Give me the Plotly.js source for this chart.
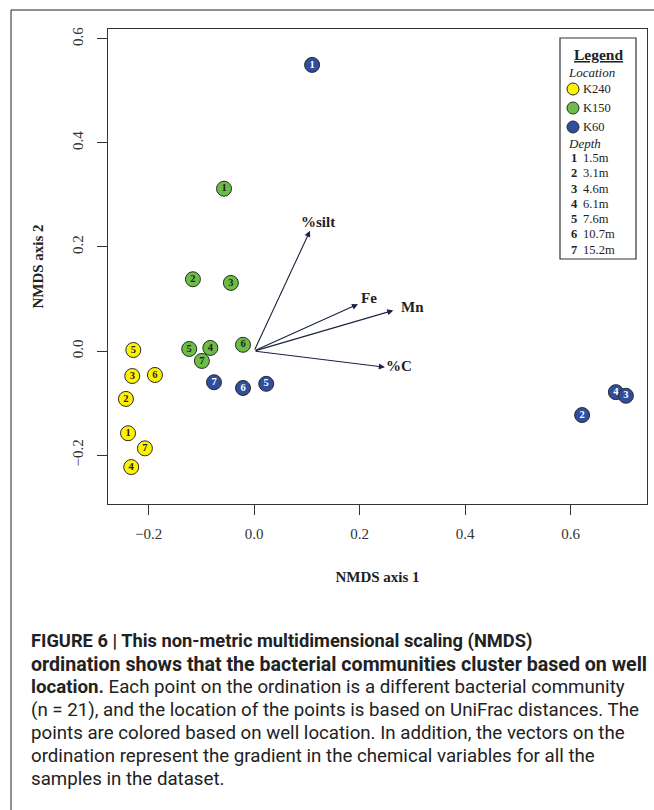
<!DOCTYPE html>
<html>
<head>
<meta charset="utf-8">
<script src="https://cdn.plot.ly/plotly-3.0.1.min.js"></script>
<style>html,body{margin:0;padding:0;background:#fff;}#chart{width:654px;height:810px;}</style>
</head>
<body>
<div id="chart"></div>
<script>
// ---- data ----
const locations = ['K240', 'K150', 'K60'];
const depthCodes = ['1', '2', '3', '4', '5', '6', '7'];
const depthLabels = ['1.5m', '3.1m', '4.6m', '6.1m', '7.6m', '10.7m', '15.2m'];

const k240Depth = ['5', '3', '6', '2', '1', '7', '4'];
const k240X = [-0.229, -0.231, -0.188, -0.243, -0.239, -0.207, -0.233];
const k240Y = [0.002, -0.048, -0.046, -0.092, -0.158, -0.187, -0.223];

const k150Depth = ['1', '2', '3', '5', '4', '7', '6'];
const k150X = [-0.057, -0.116, -0.044, -0.123, -0.083, -0.099, -0.021];
const k150Y = [0.312, 0.138, 0.131, 0.004, 0.006, -0.019, 0.012];

const k60Depth = ['1', '7', '6', '5', '2', '4', '3'];
const k60X = [0.110, -0.076, -0.021, 0.023, 0.622, 0.686, 0.705];
const k60Y = [0.550, -0.060, -0.071, -0.063, -0.123, -0.079, -0.086];

const vectorNames = ['%silt', 'Fe', 'Mn', '%C'];
const vectorX = [0.106, 0.197, 0.264, 0.248];
const vectorY = [0.231, 0.090, 0.078, -0.031];

const xTicks = [-0.2, 0.0, 0.2, 0.4, 0.6];
const yTicks = [-0.2, 0.0, 0.2, 0.4, 0.6];

const captionLines = [
  '<b>FIGURE 6 | This non-metric multidimensional scaling (NMDS)</b>',
  '<b>ordination shows that the bacterial communities cluster based on well</b>',
  '<b>location.</b> Each point on the ordination is a different bacterial community',
  '(n = 21), and the location of the points is based on UniFrac distances. The',
  'points are colored based on well location. In addition, the vectors on the',
  'ordination represent the gradient in the chemical variables for all the',
  'samples in the dataset.'
];

// ---- styling / layout ----
const W = 654, H = 810;
const M = {l: 108, r: 7, t: 29, b: 306};
const PW = W - M.l - M.r, PH = H - M.t - M.b;
const px = x => (x - M.l) / PW;
const py = y => (H - M.b - y) / PH;

const serif = 'Liberation Serif, Times New Roman, serif';
const fillColors = ['#fff200', '#6cbd45', '#2f4f9e'];
const textColors = ['#222', '#222', '#ffffff'];
const edge = '#2a2a2a';

function pointTrace(xs, ys, labels, i) {
  return {
    type: 'scatter', mode: 'markers+text', name: locations[i],
    x: xs, y: ys, text: labels, textposition: 'middle center',
    textfont: {family: serif, size: 10.5, color: textColors[i], weight: 'bold'},
    marker: {size: 15, color: fillColors[i], line: {color: edge, width: 1}},
    hoverinfo: 'x+y', showlegend: false, cliponaxis: false
  };
}

const traces = [
  pointTrace(k240X, k240Y, k240Depth, 0),
  pointTrace(k150X, k150Y, k150Depth, 1),
  pointTrace(k60X, k60Y, k60Depth, 2)
];

const annotations = [];
const shapes = [];

// vectors
const labelOffsets = [[8, 9], [11, 6], [19, 3], [14, 1]];
vectorNames.forEach((n, i) => {
  annotations.push({
    x: vectorX[i], y: vectorY[i], ax: 0, ay: 0, axref: 'x', ayref: 'y', xref: 'x', yref: 'y',
    text: '', showarrow: true, arrowhead: 2, arrowsize: 1.1, arrowwidth: 1.1, arrowcolor: '#1c2340'
  });
  annotations.push({
    x: vectorX[i], y: vectorY[i], xref: 'x', yref: 'y', xshift: labelOffsets[i][0], yshift: labelOffsets[i][1],
    text: '<b>' + n + '</b>', showarrow: false, xanchor: 'center', yanchor: 'middle',
    font: {family: serif, size: 15, color: '#222'}
  });
});

// legend box
shapes.push({type: 'rect', xref: 'paper', yref: 'paper', x0: px(560), x1: px(636), y0: py(259), y1: py(38),
  line: {color: '#333', width: 1.2}, fillcolor: 'rgba(0,0,0,0)'});
annotations.push({xref: 'paper', yref: 'paper', x: px(598), y: py(54), text: '<b><u>Legend</u></b>', showarrow: false,
  xanchor: 'center', yanchor: 'middle', font: {family: serif, size: 15.5, color: '#222'}});
annotations.push({xref: 'paper', yref: 'paper', x: px(566), y: py(73), text: '<i>Location</i>', showarrow: false,
  xanchor: 'left', yanchor: 'middle', font: {family: serif, size: 13, color: '#222'}});
locations.forEach((loc, i) => {
  const yy = 89 + i * 19;
  shapes.push({type: 'circle', xref: 'paper', yref: 'paper', xsizemode: 'pixel', ysizemode: 'pixel',
    xanchor: px(573), yanchor: py(yy), x0: -6, x1: 6, y0: -6, y1: 6,
    fillcolor: fillColors[i], line: {color: edge, width: 1}});
  annotations.push({xref: 'paper', yref: 'paper', x: px(581), y: py(yy), text: loc, showarrow: false,
    xanchor: 'left', yanchor: 'middle', font: {family: serif, size: 12.5, color: '#222'}});
});
annotations.push({xref: 'paper', yref: 'paper', x: px(566), y: py(143), text: '<i>Depth</i>', showarrow: false,
  xanchor: 'left', yanchor: 'middle', font: {family: serif, size: 13, color: '#222'}});
depthCodes.forEach((d, i) => {
  const yy = 158 + i * 15.3;
  annotations.push({xref: 'paper', yref: 'paper', x: px(569), y: py(yy), text: '<b>' + d + '</b>', showarrow: false,
    xanchor: 'left', yanchor: 'middle', font: {family: serif, size: 12.5, color: '#222'}});
  annotations.push({xref: 'paper', yref: 'paper', x: px(581), y: py(yy), text: depthLabels[i], showarrow: false,
    xanchor: 'left', yanchor: 'middle', font: {family: serif, size: 12.5, color: '#222'}});
});

// outer figure frame (left and top edges)
shapes.push({type: 'line', xref: 'paper', yref: 'paper', x0: px(11), x1: px(660), y0: py(10), y1: py(10), line: {color: '#222', width: 1}});
shapes.push({type: 'line', xref: 'paper', yref: 'paper', x0: px(11), x1: px(11), y0: py(10), y1: py(815), line: {color: '#222', width: 1}});

// caption
const capFont = 'Roboto, Liberation Sans, sans-serif';
const capSizes = [18.3, 19.6, 18.7, 18.7, 18.7, 18.7, 18.7];
captionLines.forEach((line, i) => {
  annotations.push({xref: 'paper', yref: 'paper', x: px(29), y: py(641 + i * 23), text: line, showarrow: false,
    xanchor: 'left', yanchor: 'middle', align: 'left', font: {family: capFont, size: capSizes[i], color: '#222'}});
});

const layout = {
  width: W, height: H, margin: M, paper_bgcolor: '#fff', plot_bgcolor: '#fff', showlegend: false,
  font: {family: serif, color: '#333'},
  xaxis: {
    range: [-0.277, 0.745], tickvals: xTicks, tickformat: '.1f', ticks: 'outside', ticklen: 10, tickcolor: '#333',
    showgrid: false, zeroline: false, showline: true, mirror: true, linecolor: '#333', linewidth: 1,
    tickfont: {family: serif, size: 15, color: '#333'}, ticklabelstandoff: 6,
    title: {text: '<b>NMDS axis 1</b>', font: {family: serif, size: 15, color: '#222'}, standoff: 30}
  },
  yaxis: {
    range: [-0.294, 0.619], tickvals: yTicks, tickformat: '.1f', ticks: 'outside', ticklen: 10, tickcolor: '#333',
    tickangle: -90, showgrid: false, zeroline: false, showline: true, mirror: true, linecolor: '#333', linewidth: 1,
    tickfont: {family: serif, size: 15, color: '#333'}, ticklabelstandoff: 8,
    title: {text: '<b>NMDS axis 2</b>', font: {family: serif, size: 15, color: '#222'}, standoff: 22}
  },
  shapes: shapes, annotations: annotations
};

Plotly.newPlot('chart', traces, layout, {displayModeBar: false, staticPlot: true});
</script>
</body>
</html>
